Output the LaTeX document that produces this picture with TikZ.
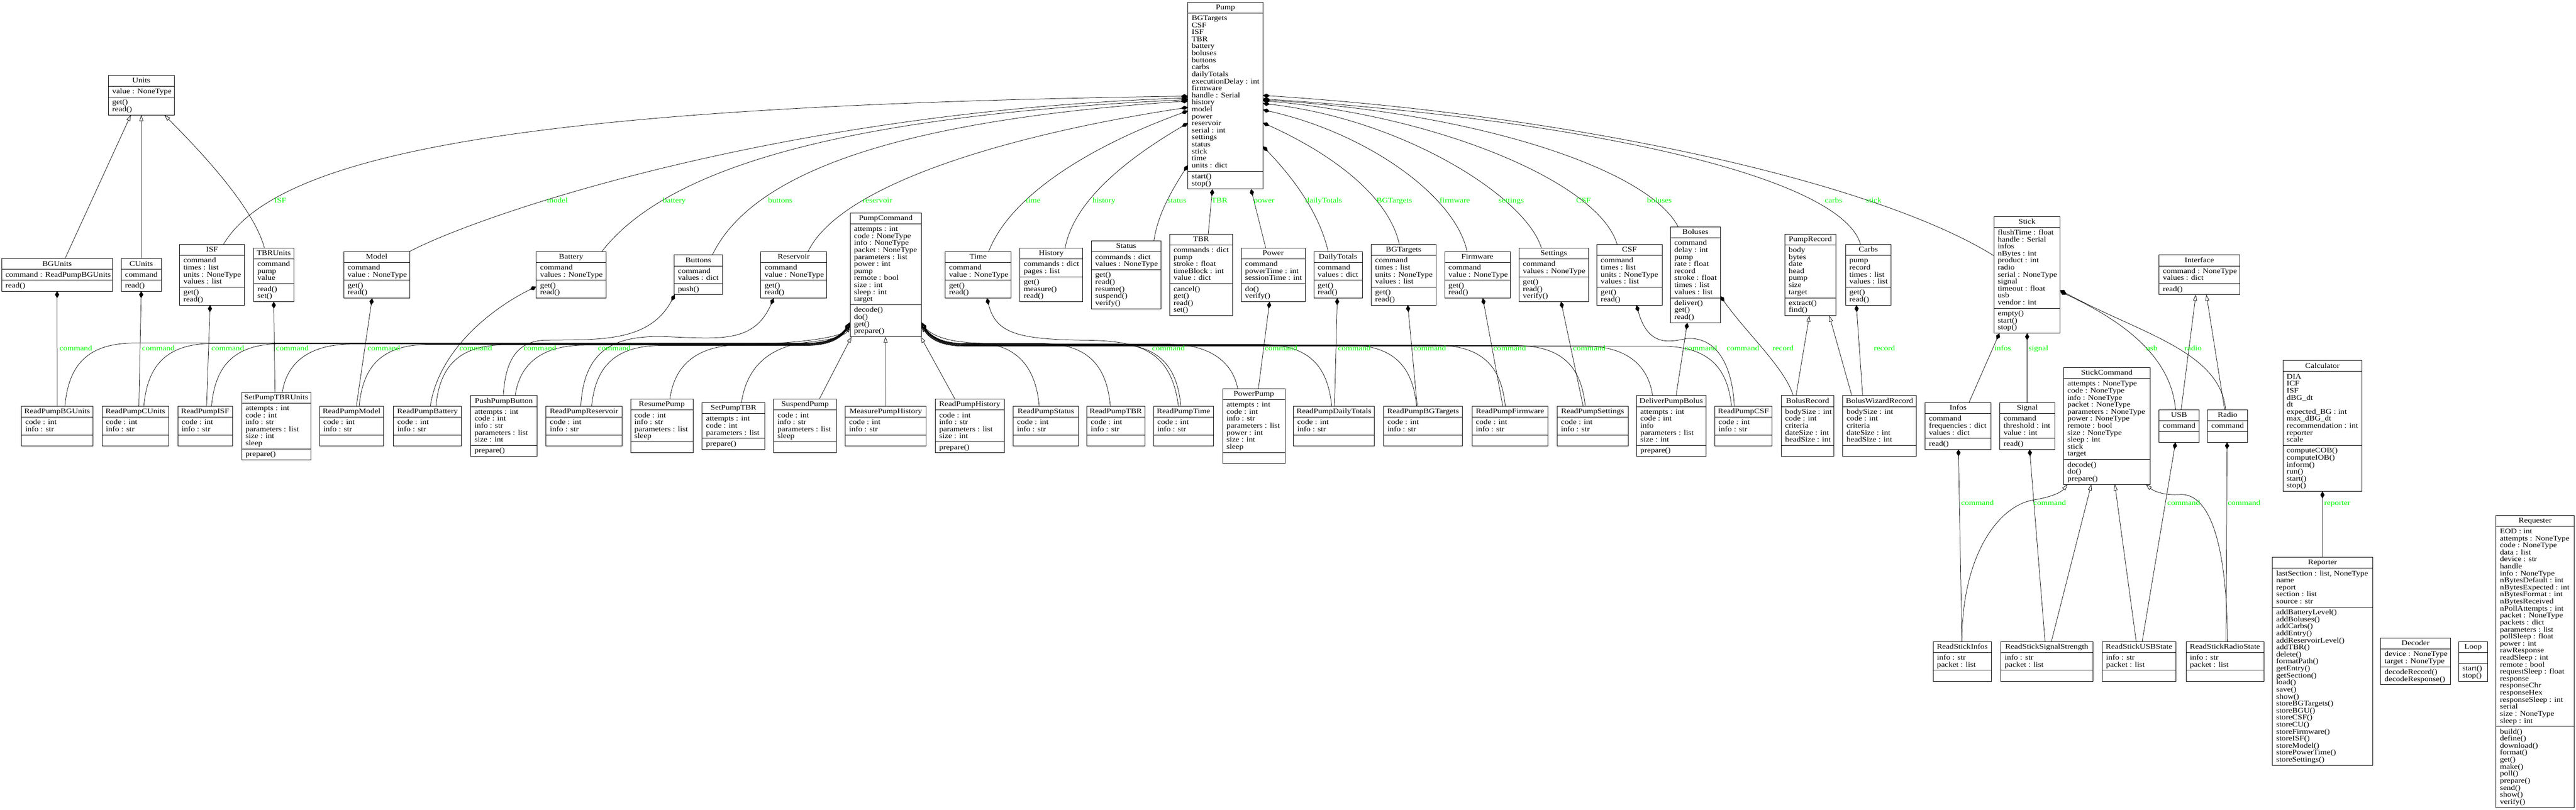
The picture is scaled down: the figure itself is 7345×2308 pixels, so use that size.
\documentclass[tikz,border=0pt]{standalone}
\usepackage{fontspec}
\setmainfont{Liberation Serif}[FakeStretch=1.15]
\usetikzlibrary{arrows.meta,calc}
\newcommand\cfont{\fontsize{20.5}{20}\selectfont}
\tikzset{
 cls/.style={draw, line width=1.3pt, inner sep=0pt, outer sep=0pt},
 seprule/.style={line width=1.3pt},
 txt/.style={inner sep=0pt, outer sep=0pt, font=\cfont},
 lbl/.style={inner sep=0pt, outer sep=0pt, font=\cfont, text=green, anchor=base west},
 comp/.style={line width=1.1pt, {Diamond[length=20pt,width=12pt]}-},
 inh/.style={line width=1.1pt, -{Triangle[open,length=17pt,width=11pt]}},
}
% name, x1, x2, ycenter, nAttr, attrs, nMeth, methods
\newcommand\classbox[8]{%
 \pgfmathsetmacro\ua{20*max(#5,1)+11}%
 \pgfmathsetmacro\ub{20*max(#7,1)+11}%
 \pgfmathsetmacro\uh{31+\ua+\ub}%
 \pgfmathsetmacro\ut{#4-\uh/2}%
 \pgfmathsetmacro\uw{#3-#2}%
 \pgfmathsetmacro\uc{(#2+#3)/2}%
 \pgfmathsetmacro\ys{\ut+31}%
 \pgfmathsetmacro\yt{\ys+\ua}%
 \node[cls, minimum width=\uw pt, minimum height=\uh pt] (#1) at (\uc,#4) {};%
 \draw[seprule] (#2,\ys) -- (#3,\ys) (#2,\yt) -- (#3,\yt);%
 \node[txt,anchor=base] (#1-t) at (\uc,\ut+21) {#1};%
 \ifnum#5>0 \foreach \utext [count=\ui] in {#6} {\node[txt,anchor=base west] (#1-a\ui) at (#2+11,\ys+1+20*\ui) {\utext};}\fi
 \ifnum#7>0 \foreach \utext [count=\ui] in {#8} {\node[txt,anchor=base west] (#1-m\ui) at (#2+11,\yt+1+20*\ui) {\utext};}\fi
}
\begin{document}
\begin{tikzpicture}[x=1pt,y=-1pt]
\fill[white] (0,0) rectangle (7345,2308);
\useasboundingbox (0,0) rectangle (7345,2308);
% ---------- rank 0
\classbox{Units}{309}{497}{271.5}{1}{value : NoneType}{2}{get(),read()}
\classbox{Pump}{3387}{3601}{272.5}{22}{BGTargets,CSF,ISF,TBR,battery,boluses,buttons,carbs,dailyTotals,executionDelay : int,firmware,handle : Serial,history,model,power,reservoir,serial : int,settings,status,stick,time,units : dict}{2}{start(),stop()}
% ---------- rank 1
\classbox{BGUnits}{4.5}{321}{783.5}{1}{command : ReadPumpBGUnits}{1}{read()}
\classbox{CUnits}{345.5}{460}{783.5}{1}{command}{1}{read()}
\classbox{ISF}{512}{697}{783.5}{4}{command,times : list,units : NoneType,values : list}{2}{get(),read()}
\classbox{TBRUnits}{723}{838}{783.5}{3}{command,pump,value}{2}{read(),set()}
\classbox{Model}{980}{1168}{783.5}{2}{command,value : NoneType}{2}{get(),read()}
\classbox{Battery}{1529}{1728}{783.5}{2}{command,values : NoneType}{2}{get(),read()}
\classbox{Buttons}{1922}{2060}{783.5}{2}{command,values : dict}{1}{push()}
\classbox{Reservoir}{2169}{2357}{783.5}{2}{command,value : NoneType}{2}{get(),read()}
\classbox{PumpCommand}{2424}{2627}{783.5}{11}{attempts : int,code : NoneType,info : NoneType,packet : NoneType,parameters : list,power : int,pump,remote : bool,size : int,sleep : int,target}{4}{decode(),do(),get(),prepare()}
\classbox{Time}{2695}{2883}{783.5}{2}{command,value : NoneType}{2}{get(),read()}
\classbox{History}{2908}{3087}{783.5}{2}{commands : dict,pages : list}{3}{get(),measure(),read()}
\classbox{Status}{3112}{3310}{783.5}{2}{commands : dict,values : NoneType}{5}{get(),read(),resume(),suspend(),verify()}
\classbox{TBR}{3335}{3514}{783.5}{5}{commands : dict,pump,stroke : float,timeBlock : int,value : dict}{4}{cancel(),get(),read(),set()}
\classbox{Power}{3539}{3721}{783.5}{3}{command,powerTime : int,sessionTime : int}{2}{do(),verify()}
\classbox{DailyTotals}{3746}{3884}{783.5}{2}{command,values : dict}{2}{get(),read()}
\classbox{BGTargets}{3910}{4094}{783.5}{4}{command,times : list,units : NoneType,values : list}{2}{get(),read()}
\classbox{Firmware}{4119}{4306}{783.5}{2}{command,value : NoneType}{2}{get(),read()}
\classbox{Settings}{4331}{4529}{783.5}{2}{command,values : NoneType}{3}{get(),read(),verify()}
\classbox{CSF}{4553}{4739}{783.5}{4}{command,times : list,units : NoneType,values : list}{2}{get(),read()}
\classbox{Boluses}{4763}{4905}{783.5}{8}{command,delay : int,pump,rate : float,record,stroke : float,times : list,values : list}{3}{deliver(),get(),read()}
\classbox{PumpRecord}{5089}{5234}{783.5}{7}{body,bytes,date,head,pump,size,target}{2}{extract(),find()}
\classbox{Carbs}{5262}{5392}{783.5}{4}{pump,record,times : list,values : list}{2}{get(),read()}
\classbox{Stick}{5685}{5874}{783.5}{11}{flushTime : float,handle : Serial,infos,nBytes : int,product : int,radio,serial : NoneType,signal,timeout : float,usb,vendor : int}{3}{empty(),start(),stop()}
\classbox{Interface}{6156}{6386}{783.5}{2}{command : NoneType,values : dict}{1}{read()}
% ---------- rank 2
\classbox{ReadPumpBGUnits}{61}{265}{1214.5}{2}{code : int,info : str}{0}{}
\classbox{ReadPumpCUnits}{291}{481}{1214.5}{2}{code : int,info : str}{0}{}
\classbox{ReadPumpISF}{507}{663}{1214.5}{2}{code : int,info : str}{0}{}
\classbox{SetPumpTBRUnits}{689}{886}{1214.5}{6}{attempts : int,code : int,info : str,parameters : list,size : int,sleep}{1}{prepare()}
\classbox{ReadPumpModel}{911}{1094}{1214.5}{2}{code : int,info : str}{0}{}
\classbox{ReadPumpBattery}{1122}{1316}{1214.5}{2}{code : int,info : str}{0}{}
\classbox{PushPumpButton}{1342}{1531}{1214.5}{5}{attempts : int,code : int,info : str,parameters : list,size : int}{1}{prepare()}
\classbox{ReadPumpReservoir}{1557}{1773}{1214.5}{2}{code : int,info : str}{0}{}
\classbox{ResumePump}{1798}{1976}{1214.5}{4}{code : int,info : str,parameters : list,sleep}{0}{}
\classbox{SetPumpTBR}{2002}{2181}{1214.5}{3}{attempts : int,code : int,parameters : list}{1}{prepare()}
\classbox{SuspendPump}{2206}{2385}{1214.5}{4}{code : int,info : str,parameters : list,sleep}{0}{}
\classbox{MeasurePumpHistory}{2410}{2641}{1214.5}{2}{code : int,info : str}{0}{}
\classbox{ReadPumpHistory}{2667}{2863}{1214.5}{4}{code : int,info : str,parameters : list,size : int}{1}{prepare()}
\classbox{ReadPumpStatus}{2889}{3075}{1214.5}{2}{code : int,info : str}{0}{}
\classbox{ReadPumpTBR}{3099}{3264}{1214.5}{2}{code : int,info : str}{0}{}
\classbox{ReadPumpTime}{3289}{3460}{1214.5}{2}{code : int,info : str}{0}{}
\classbox{PowerPump}{3486}{3664}{1214.5}{7}{attempts : int,code : int,info : str,parameters : list,power : int,size : int,sleep}{0}{}
\classbox{ReadPumpDailyTotals}{3688}{3919}{1214.5}{2}{code : int,info : str}{0}{}
\classbox{ReadPumpBGTargets}{3945}{4170}{1214.5}{2}{code : int,info : str}{0}{}
\classbox{ReadPumpFirmware}{4197}{4414}{1214.5}{2}{code : int,info : str}{0}{}
\classbox{ReadPumpSettings}{4440}{4642}{1214.5}{2}{code : int,info : str}{0}{}
\classbox{DeliverPumpBolus}{4666}{4864}{1214.5}{5}{attempts : int,code : int,info,parameters : list,size : int}{1}{prepare()}
\classbox{ReadPumpCSF}{4889}{5053}{1214.5}{2}{code : int,info : str}{0}{}
\classbox{BolusRecord}{5079}{5229}{1214.5}{5}{bodySize : int,code : int,criteria,dateSize : int,headSize : int}{0}{}
\classbox{BolusWizardRecord}{5254}{5464}{1214.5}{5}{bodySize : int,code : int,criteria,dateSize : int,headSize : int}{0}{}
\classbox{Infos}{5489}{5677}{1214.5}{3}{command,frequencies : dict,values : dict}{1}{read()}
\classbox{Signal}{5702}{5859}{1214.5}{3}{command,threshold : int,value : int}{1}{read()}
\classbox{StickCommand}{5884}{6130}{1214.5}{11}{attempts : NoneType,code : NoneType,info : NoneType,packet : NoneType,parameters : NoneType,power : NoneType,remote : bool,size : NoneType,sleep : int,stick,target}{3}{decode(),do(),prepare()}
\classbox{USB}{6156}{6270}{1214.5}{1}{command}{0}{}
\classbox{Radio}{6294}{6409}{1214.5}{1}{command}{0}{}
\classbox{Calculator}{6509}{6735}{1214.5}{10}{DIA,ICF,ISF,dBG\_dt,dt,expected\_BG : int,max\_dBG\_dt,recommendation : int,reporter,scale}{6}{computeCOB(),computeIOB(),inform(),run(),start(),stop()}
% ---------- rank 3
\classbox{ReadStickInfos}{5512}{5678}{1885.5}{2}{info : str,packet : list}{0}{}
\classbox{ReadStickSignalStrength}{5705}{5967}{1885.5}{2}{info : str,packet : list}{0}{}
\classbox{ReadStickUSBState}{5994}{6204}{1885.5}{2}{info : str,packet : list}{0}{}
\classbox{ReadStickRadioState}{6233}{6455}{1885.5}{2}{info : str,packet : list}{0}{}
\classbox{Reporter}{6479}{6765}{1885.5}{5}{{lastSection : list, NoneType},name,report,section : list,source : str}{22}{addBatteryLevel(),addBoluses(),addCarbs(),addEntry(),addReservoirLevel(),addTBR(),delete(),formatPath(),getEntry(),getSection(),load(),save(),show(),storeBGTargets(),storeBGU(),storeCSF(),storeCU(),storeFirmware(),storeISF(),storeModel(),storePowerTime(),storeSettings()}
\classbox{Decoder}{6788}{6987}{1885.5}{2}{device : NoneType,target : NoneType}{2}{decodeRecord(),decodeResponse()}
\classbox{Loop}{7010}{7093}{1885.5}{0}{}{2}{start(),stop()}
\classbox{Requester}{7117}{7340}{1885.5}{28}{EOD : int,attempts : NoneType,code : NoneType,data : list,device : str,handle,info : NoneType,nBytesDefault : int,nBytesExpected : int,nBytesFormat : int,nBytesReceived,nPollAttempts : int,packet : NoneType,packets : dict,parameters : list,pollSleep : float,power : int,rawResponse,readSleep : int,remote : bool,requestSleep : float,response,responseChr,responseHex,responseSleep : int,serial,size : NoneType,sleep : int}{11}{build(),define(),download(),format(),get(),make(),poll(),prepare(),send(),show(),verify()}

% ================= edges: Pump compositions
\draw[comp] ($(Pump.north west)+(0,268)$) .. controls (1600,300) and (800,420) .. ($(ISF.north west)+(125,0)$);
\draw[comp] ($(Pump.north west)+(0,273)$) .. controls (2200,320) and (1350,620) .. (Model.north east);
\draw[comp] ($(Pump.north west)+(0,278)$) .. controls (2400,330) and (1900,480) .. ($(Battery.north west)+(187,0)$);
\draw[comp] ($(Pump.north west)+(0,282)$) .. controls (2600,340) and (2150,480) .. ($(Buttons.north west)+(109,0)$);
\draw[comp] ($(Pump.north west)+(0,300)$) .. controls (2900,380) and (2400,520) .. ($(Reservoir.north west)+(135,0)$);
\draw[comp] ($(Pump.north west)+(0,310)$) .. controls (3100,420) and (2880,560) .. ($(Time.north west)+(124,0)$);
\draw[comp] ($(Pump.north west)+(0,345)$) .. controls (3200,460) and (3060,580) .. ($(History.north west)+(129,0)$);
\draw[comp] ($(Pump.north west)+(0,465)$) .. controls (3330,560) and (3300,620) .. ($(Status.north west)+(178,0)$);
\draw[comp] ($(Pump.south west)+(70,0)$) -- ($(TBR.north west)+(110,0)$);
\draw[comp] ($(Pump.south west)+(180,0)$) -- ($(Power.north west)+(70,0)$);
\draw[comp] ($(Pump.north east)+(0,411)$) .. controls (3680,500) and (3760,600) .. ($(DailyTotals.north west)+(41,0)$);
\draw[comp] ($(Pump.north east)+(0,344)$) .. controls (3800,440) and (3960,560) .. ($(BGTargets.north west)+(80,0)$);
\draw[comp] ($(Pump.north east)+(0,307)$) .. controls (3900,380) and (4150,560) .. ($(Firmware.north west)+(64,0)$);
\draw[comp] ($(Pump.north east)+(0,289)$) .. controls (4000,340) and (4350,560) .. ($(Settings.north west)+(64,0)$);
\draw[comp] ($(Pump.north east)+(0,281)$) .. controls (4100,330) and (4560,520) .. ($(CSF.north west)+(58,0)$);
\draw[comp] ($(Pump.north east)+(0,279)$) .. controls (4200,320) and (4700,480) .. ($(Boluses.north west)+(22,0)$);
\draw[comp] ($(Pump.north east)+(0,276)$) .. controls (4500,340) and (5250,500) .. ($(Carbs.north west)+(43,0)$);
\draw[comp] ($(Pump.north east)+(0,266)$) .. controls (4500,330) and (5350,520) .. ($(Stick.north west)+(0,112)$);
% Units inheritance
\draw[inh] ($(BGUnits.north west)+(181,0)$) -- ($(Units.south west)+(64,0)$);
\draw[inh] (CUnits.north) -- (Units.south);
\draw[inh] ($(TBRUnits.north west)+(31,0)$) .. controls (720,580) and (540,400) .. ($(Units.south west)+(160,0)$);
% "command" compositions, rank1 -> rank2
\draw[comp] (BGUnits.south) -- (ReadPumpBGUnits.north);
\draw[comp] (CUnits.south) -- ($(ReadPumpCUnits.north west)+(105,0)$);
\draw[comp] ($(ISF.south west)+(87,0)$) -- ($(ReadPumpISF.north west)+(82,0)$);
\draw[comp] (TBRUnits.south) -- ($(SetPumpTBRUnits.north west)+(95,0)$);
\draw[comp] ($(Model.south west)+(81,0)$) -- ($(ReadPumpModel.north west)+(105,0)$);
\draw[comp] ($(Battery.north west)+(0,100)$) .. controls (1400,880) and (1250,1000) .. ($(ReadPumpBattery.north west)+(105,0)$);
\draw[comp] ($(Buttons.south west)+(2,0)$) .. controls (1850,980) and (1700,967) .. (1550,970) .. controls (1460,975) and (1440,1050) .. ($(PushPumpButton.north west)+(93,0)$);
\draw[comp] ($(Reservoir.south west)+(37,0)$) .. controls (2150,980) and (2050,965) .. (1900,960) .. controls (1760,955) and (1665,990) .. ($(ReadPumpReservoir.north west)+(99,0)$);
\draw[comp] ($(Time.south west)+(119,0)$) .. controls (2840,950) and (2900,968) .. (3100,970) .. controls (3250,972) and (3340,1000) .. ($(ReadPumpTime.north west)+(71,0)$);
\draw[comp] ($(Power.south west)+(81,0)$) -- ($(PowerPump.north west)+(102,0)$);
\draw[comp] ($(DailyTotals.south west)+(67,0)$) -- ($(ReadPumpDailyTotals.north west)+(117,0)$);
\draw[comp] ($(BGTargets.south west)+(104,0)$) -- ($(ReadPumpBGTargets.north west)+(96,0)$);
\draw[comp] ($(Firmware.south west)+(109,0)$) -- ($(ReadPumpFirmware.north west)+(88,0)$);
\draw[comp] ($(Settings.south west)+(120,0)$) -- ($(ReadPumpSettings.north west)+(74,0)$);
\draw[comp] ($(Boluses.south west)+(48,0)$) -- ($(DeliverPumpBolus.north west)+(113,0)$);
\draw[comp] ($(CSF.south west)+(113,0)$) .. controls (4700,990) and (4760,975) .. (4810,965) .. controls (4900,960) and (4940,1050) .. ($(ReadPumpCSF.north west)+(56,0)$);
\draw[comp] ($(Boluses.north east)+(0,197)$) .. controls (4980,950) and (5090,1050) .. ($(BolusRecord.north west)+(34,0)$);
\draw[comp] ($(Carbs.south west)+(31,0)$) -- ($(BolusWizardRecord.north west)+(57,0)$);
\draw[comp] ($(Stick.south west)+(16,0)$) -- ($(Infos.north west)+(125,0)$);
\draw[comp] ($(Stick.south west)+(95,0)$) -- ($(Signal.north west)+(78,0)$);
\draw[comp] ($(Stick.north east)+(0,214)$) .. controls (6020,900) and (6190,1000) .. ($(USB.north west)+(47,0)$);
\draw[comp] ($(Stick.north east)+(0,210)$) .. controls (6100,950) and (6330,1000) .. ($(Radio.north west)+(52,0)$);
% PumpRecord / Interface inheritance
\draw[inh] ($(BolusRecord.north west)+(42,0)$) -- ($(PumpRecord.south west)+(70,0)$);
\draw[inh] ($(BolusWizardRecord.north west)+(26,0)$) -- ($(PumpRecord.south west)+(127,0)$);
\draw[inh] ($(USB.north west)+(63,0)$) -- ($(Interface.south west)+(105,0)$);
\draw[inh] ($(Radio.north west)+(49,0)$) -- ($(Interface.south west)+(135,0)$);
% PumpCommand inheritance, left side
\draw[inh] ($(ReadPumpBGUnits.north west)+(124,0)$) .. controls (195,1050) and (240,978) .. (385,978) -- (2300,978) .. controls (2380,978) and (2405,946) .. ($(PumpCommand.north west)+(0,311)$);
\draw[inh] ($(ReadPumpCUnits.north west)+(119,0)$) .. controls (420,1051) and (465,979) .. (610,979) -- (2300,979) .. controls (2380,979) and (2405,947) .. ($(PumpCommand.north west)+(0,312)$);
\draw[inh] ($(ReadPumpISF.north west)+(96,0)$) .. controls (613,1052) and (658,980) .. (803,980) -- (2300,980) .. controls (2380,980) and (2405,948) .. ($(PumpCommand.north west)+(0,313)$);
\draw[inh] ($(SetPumpTBRUnits.north west)+(116,0)$) .. controls (815,1053) and (860,981) .. (1005,981) -- (2300,981) .. controls (2380,981) and (2405,949) .. ($(PumpCommand.north west)+(0,314)$);
\draw[inh] ($(ReadPumpModel.north west)+(113,0)$) .. controls (1034,1054) and (1079,982) .. (1224,982) -- (2300,982) .. controls (2380,982) and (2405,950) .. ($(PumpCommand.north west)+(0,315)$);
\draw[inh] ($(ReadPumpBattery.north west)+(121,0)$) .. controls (1253,1055) and (1298,983) .. (1443,983) -- (2300,983) .. controls (2380,983) and (2405,951) .. ($(PumpCommand.north west)+(0,316)$);
\draw[inh] ($(PushPumpButton.north west)+(127,0)$) .. controls (1479,1056) and (1524,984) .. (1669,984) -- (2300,984) .. controls (2380,984) and (2405,952) .. ($(PumpCommand.north west)+(0,317)$);
\draw[inh] ($(ReadPumpReservoir.north west)+(130,0)$) .. controls (1697,1057) and (1742,985) .. (1887,985) -- (2300,985) .. controls (2380,985) and (2405,954) .. ($(PumpCommand.north west)+(0,319)$);
\draw[inh] ($(ResumePump.north west)+(112,0)$) .. controls (1922,1050) and (1975,986) .. (2110,983) .. controls (2300,978) and (2400,960) .. ($(PumpCommand.north west)+(0,321)$);
\draw[inh] ($(SetPumpTBR.north west)+(112,0)$) .. controls (2130,1040) and (2200,985) .. (2310,975) .. controls (2380,968) and (2410,955) .. ($(PumpCommand.north west)+(0,323)$);
% bottom
\draw[inh] ($(SuspendPump.north west)+(130,0)$) -- ($(PumpCommand.south west)+(4,0)$);
\draw[inh] (MeasurePumpHistory.north) -- ($(PumpCommand.south west)+(101,0)$);
\draw[inh] ($(ReadPumpHistory.north west)+(56,0)$) -- ($(PumpCommand.south east)+(-2,0)$);
% right side
\draw[inh] ($(ReadPumpStatus.north west)+(74,0)$) .. controls (2955,1060) and (2910,982) .. (2790,978) .. controls (2680,975) and (2646,946) .. ($(PumpCommand.north east)+(0,311)$);
\draw[inh] ($(ReadPumpTBR.north west)+(67,0)$) .. controls (3156,1051) and (3111,979) .. (2966,979) -- (2750,979) .. controls (2670,979) and (2646,947) .. ($(PumpCommand.north east)+(0,312)$);
\draw[inh] ($(ReadPumpTime.north west)+(78,0)$) .. controls (3357,1052) and (3312,980) .. (3167,980) -- (2750,980) .. controls (2670,980) and (2646,948) .. ($(PumpCommand.north east)+(0,313)$);
\draw[inh] ($(PowerPump.north west)+(43,0)$) .. controls (3519,1053) and (3474,981) .. (3329,981) -- (2750,981) .. controls (2670,981) and (2646,949) .. ($(PumpCommand.north east)+(0,314)$);
\draw[inh] ($(ReadPumpDailyTotals.north west)+(109,0)$) .. controls (3787,1054) and (3742,982) .. (3597,982) -- (2750,982) .. controls (2670,982) and (2646,950) .. ($(PumpCommand.north east)+(0,315)$);
\draw[inh] ($(ReadPumpBGTargets.north west)+(94,0)$) .. controls (4029,1055) and (3984,983) .. (3839,983) -- (2750,983) .. controls (2670,983) and (2646,951) .. ($(PumpCommand.north east)+(0,316)$);
\draw[inh] ($(ReadPumpFirmware.north west)+(95,0)$) .. controls (4282,1056) and (4237,984) .. (4092,984) -- (2750,984) .. controls (2670,984) and (2646,952) .. ($(PumpCommand.north east)+(0,317)$);
\draw[inh] ($(ReadPumpSettings.north west)+(80,0)$) .. controls (4510,1057) and (4465,985) .. (4320,985) -- (2750,985) .. controls (2670,985) and (2646,954) .. ($(PumpCommand.north east)+(0,319)$);
\draw[inh] ($(DeliverPumpBolus.north west)+(46,0)$) .. controls (4702,1058) and (4657,986) .. (4512,986) -- (2750,986) .. controls (2670,986) and (2646,956) .. ($(PumpCommand.north east)+(0,321)$);
\draw[inh] ($(ReadPumpCSF.north west)+(48,0)$) .. controls (4927,1059) and (4882,987) .. (4737,987) -- (2750,987) .. controls (2670,987) and (2646,958) .. ($(PumpCommand.north east)+(0,323)$);
% stick commands
\draw[comp] ($(Infos.south west)+(95,0)$) -- ($(ReadStickInfos.north west)+(82,0)$);
\draw[comp] ($(Signal.south west)+(85,0)$) -- ($(ReadStickSignalStrength.north west)+(126,0)$);
\draw[comp] ($(USB.south west)+(47,0)$) -- ($(ReadStickUSBState.north west)+(114,0)$);
\draw[comp] ($(Radio.south west)+(56,0)$) -- ($(ReadStickRadioState.north west)+(114,0)$);
\draw[inh] ($(ReadStickInfos.north west)+(82,0)$) .. controls (5594,1580) and (5700,1440) .. (5800,1425) .. controls (5860,1415) and (5880,1400) .. ($(StickCommand.south west)+(11,0)$);
\draw[inh] ($(ReadStickSignalStrength.north west)+(144,0)$) -- ($(StickCommand.south west)+(79,0)$);
\draw[inh] ($(ReadStickUSBState.north west)+(97,0)$) -- ($(StickCommand.south west)+(146,0)$);
\draw[inh] ($(ReadStickRadioState.north west)+(118,0)$) .. controls (6350,1550) and (6300,1405) .. (6216,1410) .. controls (6170,1413) and (6140,1400) .. ($(StickCommand.south west)+(235,0)$);
\draw[comp] (Calculator.south) -- (Reporter.north);
% ================= labels
\node[lbl] (lISF) at (782,578) {ISF};
\node[lbl] (lmodel) at (1560,578) {model};
\node[lbl] (lbattery) at (1890,578) {battery};
\node[lbl] (lbuttons) at (2190,578) {buttons};
\node[lbl] (lreservoir) at (2460,578) {reservoir};
\node[lbl] (ltime) at (2925,578) {time};
\node[lbl] (lhistory) at (3115,578) {history};
\node[lbl] (lstatus) at (3329,578) {status};
\node[lbl] (lTBR) at (3454,578) {TBR};
\node[lbl] (lpower) at (3575,578) {power};
\node[lbl] (ldaily) at (3722,578) {dailyTotals};
\node[lbl] (lBGT) at (3925,578) {BGTargets};
\node[lbl] (lfirm) at (4105,578) {firmware};
\node[lbl] (lsett) at (4273,578) {settings};
\node[lbl] (lCSF) at (4494,578) {CSF};
\node[lbl] (lbol) at (4696,578) {boluses};
\node[lbl] (lcarbs) at (5203,578) {carbs};
\node[lbl] (lstick) at (5320,578) {stick};
\node[lbl] (c1) at (170,999) {command};
\node[lbl] (c2) at (405,999) {command};
\node[lbl] (c3) at (603,999) {command};
\node[lbl] (c4) at (787,999) {command};
\node[lbl] (c5) at (1048,999) {command};
\node[lbl] (c6) at (1310,999) {command};
\node[lbl] (c7) at (1493,999) {command};
\node[lbl] (c8) at (1705,999) {command};
\node[lbl] (c9) at (3285,999) {command};
\node[lbl] (c10) at (3606,999) {command};
\node[lbl] (c11) at (3815,999) {command};
\node[lbl] (c12) at (4030,999) {command};
\node[lbl] (c13) at (4258,999) {command};
\node[lbl] (c14) at (4485,999) {command};
\node[lbl] (c15) at (4803,999) {command};
\node[lbl] (c16) at (4923,999) {command};
\node[lbl] (r1) at (5054,999) {record};
\node[lbl] (r2) at (5343,999) {record};
\node[lbl] (linfos) at (5687,999) {infos};
\node[lbl] (lsignal) at (5784,999) {signal};
\node[lbl] (lusb) at (6119,999) {usb};
\node[lbl] (lradio) at (6229,999) {radio};
\node[lbl] (s1) at (5592,1440) {command};
\node[lbl] (s2) at (5798,1440) {command};
\node[lbl] (s3) at (6180,1440) {command};
\node[lbl] (s4) at (6352,1440) {command};
\node[lbl] (lrep) at (6627,1440) {reporter};
\end{tikzpicture}
\end{document}
